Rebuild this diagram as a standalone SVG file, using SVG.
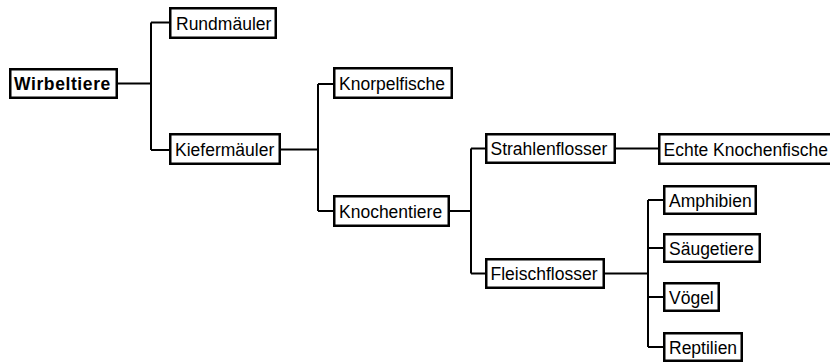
<svg xmlns="http://www.w3.org/2000/svg" width="830" height="363" viewBox="0 0 830 363">
<style>
.box{fill:#fff;stroke:#000;stroke-width:2.5}
.t{font-family:"Liberation Sans",Arial,sans-serif;font-size:17.5px;fill:#000}
.b{font-weight:bold;letter-spacing:0.6px}
.c{fill:none;stroke:#000;stroke-width:2}
</style>
<rect width="830" height="363" fill="#fff"/>
<g id="connectors">
<path class="c" d="M118 83.5H151M151 22.5V150M151 22.5H169M151 150H169"/>
<path class="c" d="M281 149.5H318M318 84V211M318 84H333M318 211H333"/>
<path class="c" d="M450 211H471M471 148.5V273.5M471 148.5H485M471 273.5H485"/>
<path class="c" d="M616 148.5H658"/>
<path class="c" d="M605 273.5H648M648 200V347M648 200H663M648 248H663M648 297H663M648 347H663"/>
</g>
<g id="wirbeltiere"><rect class="box" x="10.25" y="69.25" width="106.5" height="28.5"/><text class="t b" x="14" y="90">Wirbeltiere</text></g>
<g id="rundmaeuler"><rect class="box" x="170.25" y="8.25" width="105.5" height="29.5"/><text class="t" x="176" y="29.5">Rundmäuler</text></g>
<g id="kiefermaeuler"><rect class="box" x="170.25" y="134.25" width="109.5" height="29.5"/><text class="t" x="175" y="156">Kiefermäuler</text></g>
<g id="knorpelfische"><rect class="box" x="334.25" y="68.25" width="117.5" height="29.5"/><text class="t" x="339" y="90">Knorpelfische</text></g>
<g id="knochentiere"><rect class="box" x="334.25" y="196.25" width="114.5" height="29.5"/><text class="t" x="339" y="217.5">Knochentiere</text></g>
<g id="strahlenflosser"><rect class="box" x="486.25" y="134.25" width="128.5" height="28.5"/><text class="t" x="490.5" y="155">Strahlenflosser</text></g>
<g id="echte-knochenfische"><rect class="box" x="659.25" y="134.25" width="175" height="29.5"/><text class="t" x="663.5" y="155.5">Echte Knochenfische</text></g>
<g id="fleischflosser"><rect class="box" x="486.25" y="259.25" width="117.5" height="28.5"/><text class="t" x="490.5" y="280">Fleischflosser</text></g>
<g id="amphibien"><rect class="box" x="664.25" y="186.25" width="91.5" height="27.5"/><text class="t" x="669" y="206.5">Amphibien</text></g>
<g id="saeugetiere"><rect class="box" x="664.25" y="234.25" width="95.5" height="27.5"/><text class="t" x="669" y="254.5">Säugetiere</text></g>
<g id="voegel"><rect class="box" x="664.25" y="283.25" width="54.5" height="27.5"/><text class="t" x="669" y="303.5">Vögel</text></g>
<g id="reptilien"><rect class="box" x="664.25" y="333.25" width="77.5" height="27.5"/><text class="t" x="669" y="353.5">Reptilien</text></g>
</svg>
